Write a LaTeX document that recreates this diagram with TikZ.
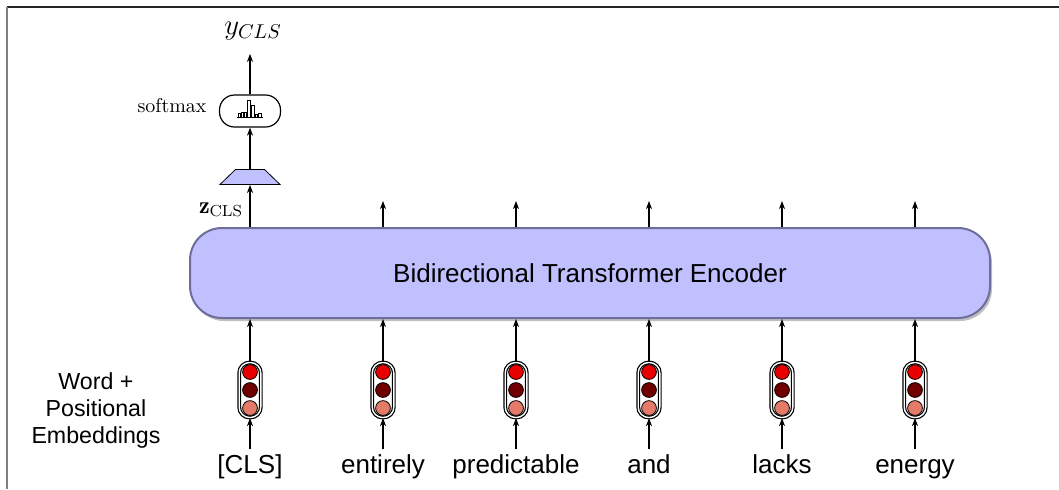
\documentclass[tikz,border=0pt]{standalone}
\usepackage{amsmath}
\usepackage{fontspec}
\setsansfont{Liberation Sans}
\usepackage{xcolor}
\usetikzlibrary{shapes.geometric,shadows,arrows.meta}

\definecolor{encfill}{HTML}{C0C0FF}
\definecolor{encline}{HTML}{6E6E9C}
\definecolor{ered}{HTML}{E80000}
\definecolor{edark}{HTML}{700000}
\definecolor{elight}{HTML}{E47A68}

\begin{document}
\begin{tikzpicture}[x=0.5pt, y=-0.5pt, semithick, >={Stealth[length=4pt, width=3pt, inset=1.2pt]}, node distance={38pt},
    word/.style = {font=\sffamily\fontsize{13}{15}\selectfont, anchor=base, inner sep=2pt, text height=9.5pt, text depth=2.5pt},
    vec/.style = {draw, double, double distance=0.7pt, rounded corners=5.2pt, minimum width=10.8pt, minimum height=27.5pt, inner sep=0pt,
        path picture={
            \draw[thin, fill=ered] ([yshift=9pt]path picture bounding box.center) circle (3.7pt);
            \draw[thin, fill=edark] (path picture bounding box.center) circle (3.7pt);
            \draw[thin, fill=elight] ([yshift=-9pt]path picture bounding box.center) circle (3.7pt);
        }},
    enc/.style = {draw=encline, line width=1pt, fill=encfill, rounded corners=16pt, minimum width=400pt, minimum height=45pt,
        font=\sffamily\fontsize{13}{15}\selectfont, drop shadow={shadow xshift=1pt, shadow yshift=-1.5pt, opacity=0.5}},
    lin/.style = {draw, thin, fill=encfill, trapezium, trapezium left angle=62, trapezium right angle=62, trapezium stretches=true,
        minimum width=30pt, minimum height=7.5pt, inner sep=1pt},
    smx/.style = {draw, rounded corners=7.5pt, minimum width=30.5pt, minimum height=16pt, inner sep=0pt}]

    \useasboundingbox (0,0) rectangle (1059,489);
    \draw[black!85, line width=0.8pt] (7,7) -- (1059,7);
    \draw[gray, line width=1pt] (7,7) -- (7,489);

    \node[enc] (enc) at (590,273) {Bidirectional Transformer Encoder};

    % input tokens
    \node[word] (w1) at (250,473) {[CLS]};
    \node[vec] (v1) [above of=w1] {};
    \draw[->] (w1) -- (v1);
    \draw[->] (v1) -- (v1 |- enc.south);

    \node[word] (w2) at (383,473) {entirely};
    \node[vec] (v2) [above of=w2] {};
    \draw[->] (w2) -- (v2);
    \draw[->] (v2) -- (v2 |- enc.south);

    \node[word] (w3) at (516,473) {predictable};
    \node[vec] (v3) [above of=w3] {};
    \draw[->] (w3) -- (v3);
    \draw[->] (v3) -- (v3 |- enc.south);

    \node[word] (w4) at (649,473) {and};
    \node[vec] (v4) [above of=w4] {};
    \draw[->] (w4) -- (v4);
    \draw[->] (v4) -- (v4 |- enc.south);

    \node[word] (w5) at (782,473) {lacks};
    \node[vec] (v5) [above of=w5] {};
    \draw[->] (w5) -- (v5);
    \draw[->] (v5) -- (v5 |- enc.south);

    \node[word] (w6) at (915,473) {energy};
    \node[vec] (v6) [above of=w6] {};
    \draw[->] (w6) -- (v6);
    \draw[->] (v6) -- (v6 |- enc.south);

    \node[align=center, font=\sffamily\fontsize{11.6}{13.5}\selectfont] (emb) at (96,410) {Word +\\Positional\\Embeddings};

    % outputs
    \coordinate (o2) at (383,201);
    \coordinate (o3) at (516,201);
    \coordinate (o4) at (649,201);
    \coordinate (o5) at (782,201);
    \coordinate (o6) at (915,201);
    \draw[->] (enc.north -| o2) -- (o2);
    \draw[->] (enc.north -| o3) -- (o3);
    \draw[->] (enc.north -| o4) -- (o4);
    \draw[->] (enc.north -| o5) -- (o5);
    \draw[->] (enc.north -| o6) -- (o6);

    % classifier head
    \node[lin] (tr) at (250,177) {};
    \node[smx] (sm) [above of=tr, node distance=33pt] {};
    \draw[thin] ([shift={(-6.5pt,-3pt)}]sm.center) -- ([shift={(6.5pt,-3pt)}]sm.center);
    \draw[thin] ([shift={(-6pt,-3pt)}]sm.center) rectangle ++(1.3pt,2pt)
        ([shift={(-4.5pt,-3pt)}]sm.center) rectangle ++(1.3pt,2.5pt)
        ([shift={(-3pt,-3pt)}]sm.center) rectangle ++(1.3pt,2.5pt)
        ([shift={(-1.3pt,-3pt)}]sm.center) rectangle ++(1.4pt,8.5pt)
        ([shift={(0.6pt,-3pt)}]sm.center) rectangle ++(1.4pt,6pt)
        ([shift={(2.5pt,-3pt)}]sm.center) rectangle ++(1.3pt,1.5pt)
        ([shift={(4.3pt,-3pt)}]sm.center) rectangle ++(1.3pt,2pt);
    \node (sml) at (172,106) {softmax};
    \node[anchor=base, font=\Large] (y) at (253,34) {$y_{CLS}$};
    \node[font=\large] (z) at (221,210) {$\mathbf{z}_{\text{CLS}}$};
    \draw[->] (enc.north -| tr) -- (tr);
    \draw[->] (tr) -- (sm);
    \draw[->, shorten >=3.5pt] (sm) -- (sm |- y.south);
\end{tikzpicture}
\end{document}
